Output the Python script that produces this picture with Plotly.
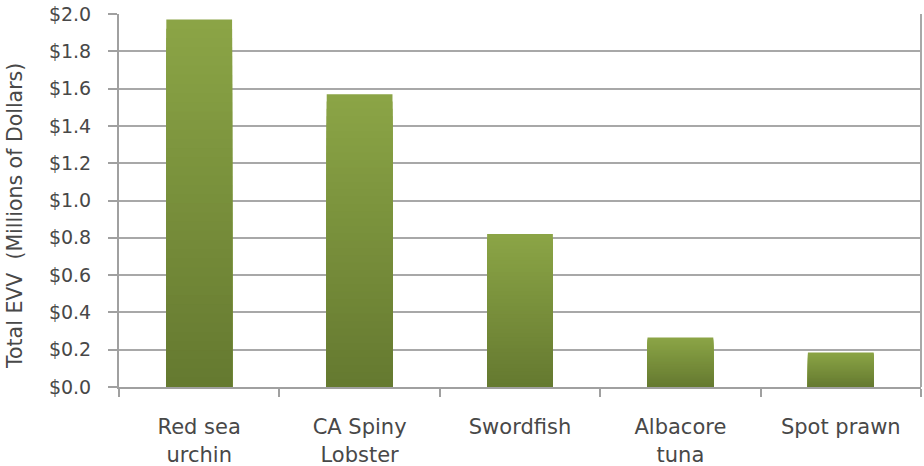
import plotly.graph_objects as go

categories = ["Red sea<br>urchin", "CA Spiny<br>Lobster", "Swordfish", "Albacore<br>tuna", "Spot prawn"]
values = [1.97, 1.57, 0.82, 0.265, 0.185]
tick_vals = [0.0, 0.2, 0.4, 0.6, 0.8, 1.0, 1.2, 1.4, 1.6, 1.8, 2.0]
tick_text = ["$%.1f" % v for v in tick_vals]
y_title = "Total EVV  (Millions of Dollars)"

top_rgb = (139, 165, 70)
bot_rgb = (101, 121, 48)
N = 40

fig = go.Figure()
# vertical gradient: overlay bars from tallest (lightest) to shortest (darkest)
for i in range(N):
    frac = (N - i) / N
    t = (N - i - 0.5) / N
    c = tuple(round(b + (tp - b) * t) for b, tp in zip(bot_rgb, top_rgb))
    fig.add_trace(go.Bar(
        x=categories,
        y=[v * frac for v in values],
        marker=dict(color="rgb(%d,%d,%d)" % c, line=dict(width=0)),
        showlegend=False,
        hoverinfo="skip",
    ))

font_family = "'DejaVu Sans', sans-serif"
txt_color = "#484848"
fig.update_layout(
    width=924, height=466,
    margin=dict(l=119, r=3, t=14, b=79),
    barmode="overlay",
    bargap=0.59,
    plot_bgcolor="white",
    paper_bgcolor="white",
    font=dict(family=font_family, color=txt_color, size=19),
    xaxis=dict(
        showline=True, linecolor="#a0a0a0", linewidth=2,
        ticks="outside", ticklen=8, tickcolor="#a0a0a0", tickwidth=2,
        tickson="boundaries",
        showgrid=False,
        tickfont=dict(size=21),
        ticklabelstandoff=20,
        automargin=False,
    ),
    yaxis=dict(
        range=[0, 2.0],
        tickvals=tick_vals, ticktext=tick_text,
        showline=True, linecolor="#a0a0a0", linewidth=2,
        ticks="outside", ticklen=9, tickcolor="#a0a0a0", tickwidth=2,
        showgrid=True, gridcolor="#a8a8a8", gridwidth=2,
        zeroline=False,
        tickfont=dict(size=19),
        ticklabelstandoff=13,
        automargin=False,
    ),
)
fig.add_annotation(text=y_title, xref="paper", yref="paper",
                   x=(15 - 119) / 802, y=(387 - 216) / 373,
                   xanchor="center", yanchor="middle", textangle=-90,
                   showarrow=False, font=dict(size=20.5, color=txt_color))
fig.add_shape(type="line", xref="paper", yref="paper", x0=1, x1=1, y0=0, y1=1,
              line=dict(color="#a8a8a8", width=2))

fig.write_html("out.html", config={"displayModeBar": False},
               post_script="document.body.style.margin='0';document.body.style.overflow='hidden';")
